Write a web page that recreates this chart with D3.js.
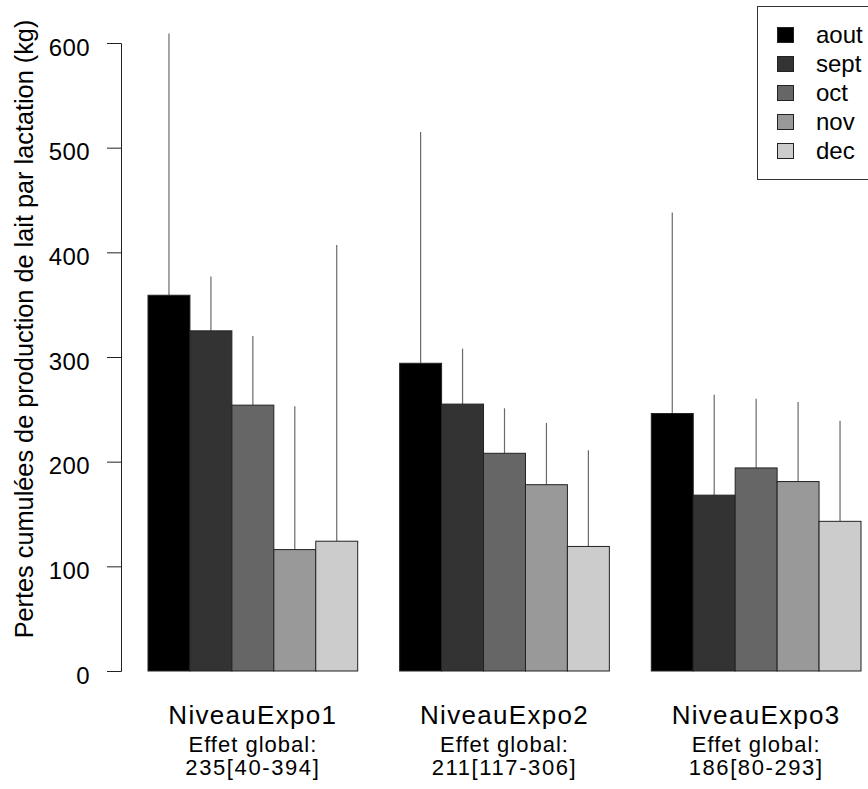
<!DOCTYPE html>
<html>
<head>
<meta charset="utf-8">
<script src="https://cdnjs.cloudflare.com/ajax/libs/d3/7.8.5/d3.min.js"></script>
<style>
  body { margin: 0; background: #fff; }
  svg { display: block; font-family: "Liberation Sans", Arial, sans-serif; }
</style>
</head>
<body>
<svg></svg>
<script>
let months = ["aout", "sept", "oct", "nov", "dec"];
let groups = ["NiveauExpo1", "NiveauExpo2", "NiveauExpo3"];
let effects = ["235[40-394]", "211[117-306]", "186[80-293]"];
let monthColors = ["#000000", "#333333", "#666666", "#999999", "#cccccc"];

// mean loss per group, one value per month
let values = [
  [359, 325, 254, 116, 124],
  [294, 255, 208, 178, 119],
  [246, 168, 194, 181, 143]
];
// upper end of the error bars
let upper = [
  [609, 377, 320, 253, 407],
  [515, 308, 251, 237, 211],
  [438, 264, 260, 257, 239]
];
let yTicks = [0, 100, 200, 300, 400, 500, 600];

let width = 868;
let height = 789;

let svg = d3.select("svg")
            .attr("width", width)
            .attr("height", height);

let yScale = d3.scaleLinear()
               .domain([0, 600])
               .range([671, 43]);

let xGroup = d3.scaleBand()
               .domain(groups)
               .range([148, 861])
               .paddingInner(1 / 6)
               .paddingOuter(0);

let xMonth = d3.scaleBand()
               .domain(months)
               .range([0, xGroup.bandwidth()]);

let color = d3.scaleOrdinal()
              .domain(months)
              .range(monthColors);

let rows = [];
groups.forEach((g, gi) => {
  months.forEach((m, mi) => {
    rows.push({group: g, month: m, value: values[gi][mi], upper: upper[gi][mi]});
  });
});

// y axis
let yAxis = svg.append("g")
   .attr("transform", "translate(121,0)")
   .call(d3.axisLeft(yScale).tickValues(yTicks).tickSize(14).tickPadding(17));

yAxis.select(".domain").attr("stroke", "#222");
yAxis.selectAll(".tick line").attr("stroke", "#222");
yAxis.selectAll(".tick text")
     .attr("fill", "#000")
     .attr("dy", "0.5em")
     .style("font-size", "24px")
     .style("letter-spacing", "0.4px")
     .style("font-family", "'Liberation Sans', Arial, sans-serif");

// y axis label
svg.append("text")
   .attr("transform", "rotate(-90)")
   .attr("x", -329)
   .attr("y", 33)
   .attr("text-anchor", "middle")
   .style("font-size", "25.3px")
   .text("Pertes cumulées de production de lait par lactation (kg)");

// error bars (upper only)
svg.append("g")
   .selectAll("line")
   .data(rows)
   .enter()
   .append("line")
     .attr("x1", d => xGroup(d.group) + xMonth(d.month) + xMonth.bandwidth() / 2)
     .attr("x2", d => xGroup(d.group) + xMonth(d.month) + xMonth.bandwidth() / 2)
     .attr("y1", d => yScale(d.value))
     .attr("y2", d => yScale(d.upper))
     .attr("stroke", "#6a6a6a")
     .attr("stroke-width", 1.2);

// bars
svg.append("g")
   .selectAll("rect")
   .data(rows)
   .enter()
   .append("rect")
     .attr("x", d => xGroup(d.group) + xMonth(d.month))
     .attr("y", d => yScale(d.value))
     .attr("width", xMonth.bandwidth())
     .attr("height", d => yScale(0) - yScale(d.value))
     .attr("fill", d => color(d.month))
     .attr("stroke", "#222")
     .attr("stroke-width", 1);

// group labels
let labels = svg.append("g")
   .selectAll("g")
   .data(groups)
   .enter()
   .append("g")
     .attr("transform", g => `translate(${xGroup(g) + xGroup.bandwidth() / 2},0)`)
     .attr("text-anchor", "middle");

labels.append("text")
      .attr("y", 724)
      .style("font-size", "26px")
      .style("letter-spacing", "1.3px")
      .text(g => g);

labels.append("text")
      .attr("y", 752)
      .style("font-size", "22px")
      .style("letter-spacing", "1px")
      .text("Effet global:");

labels.append("text")
      .attr("y", 775)
      .style("font-size", "22px")
      .style("letter-spacing", "1.6px")
      .text((g, i) => effects[i]);

// legend
let legend = svg.append("g");

legend.append("rect")
      .attr("x", 757.5)
      .attr("y", 6.5)
      .attr("width", 130)
      .attr("height", 173)
      .attr("fill", "#fff")
      .attr("stroke", "#333")
      .attr("stroke-width", 1);

let legendRow = d3.scalePoint()
                  .domain(months)
                  .range([35, 151]);

let items = legend.selectAll(".item")
   .data(months)
   .enter()
   .append("g")
     .attr("transform", m => `translate(0,${legendRow(m)})`);

items.append("rect")
     .attr("x", 777.5)
     .attr("y", -7.5)
     .attr("width", 16)
     .attr("height", 15)
     .attr("fill", m => color(m))
     .attr("stroke", "#222");

items.append("text")
     .attr("x", 816)
     .attr("y", 8)
     .style("font-size", "24px")
     .text(m => m);
</script>
</body>
</html>
